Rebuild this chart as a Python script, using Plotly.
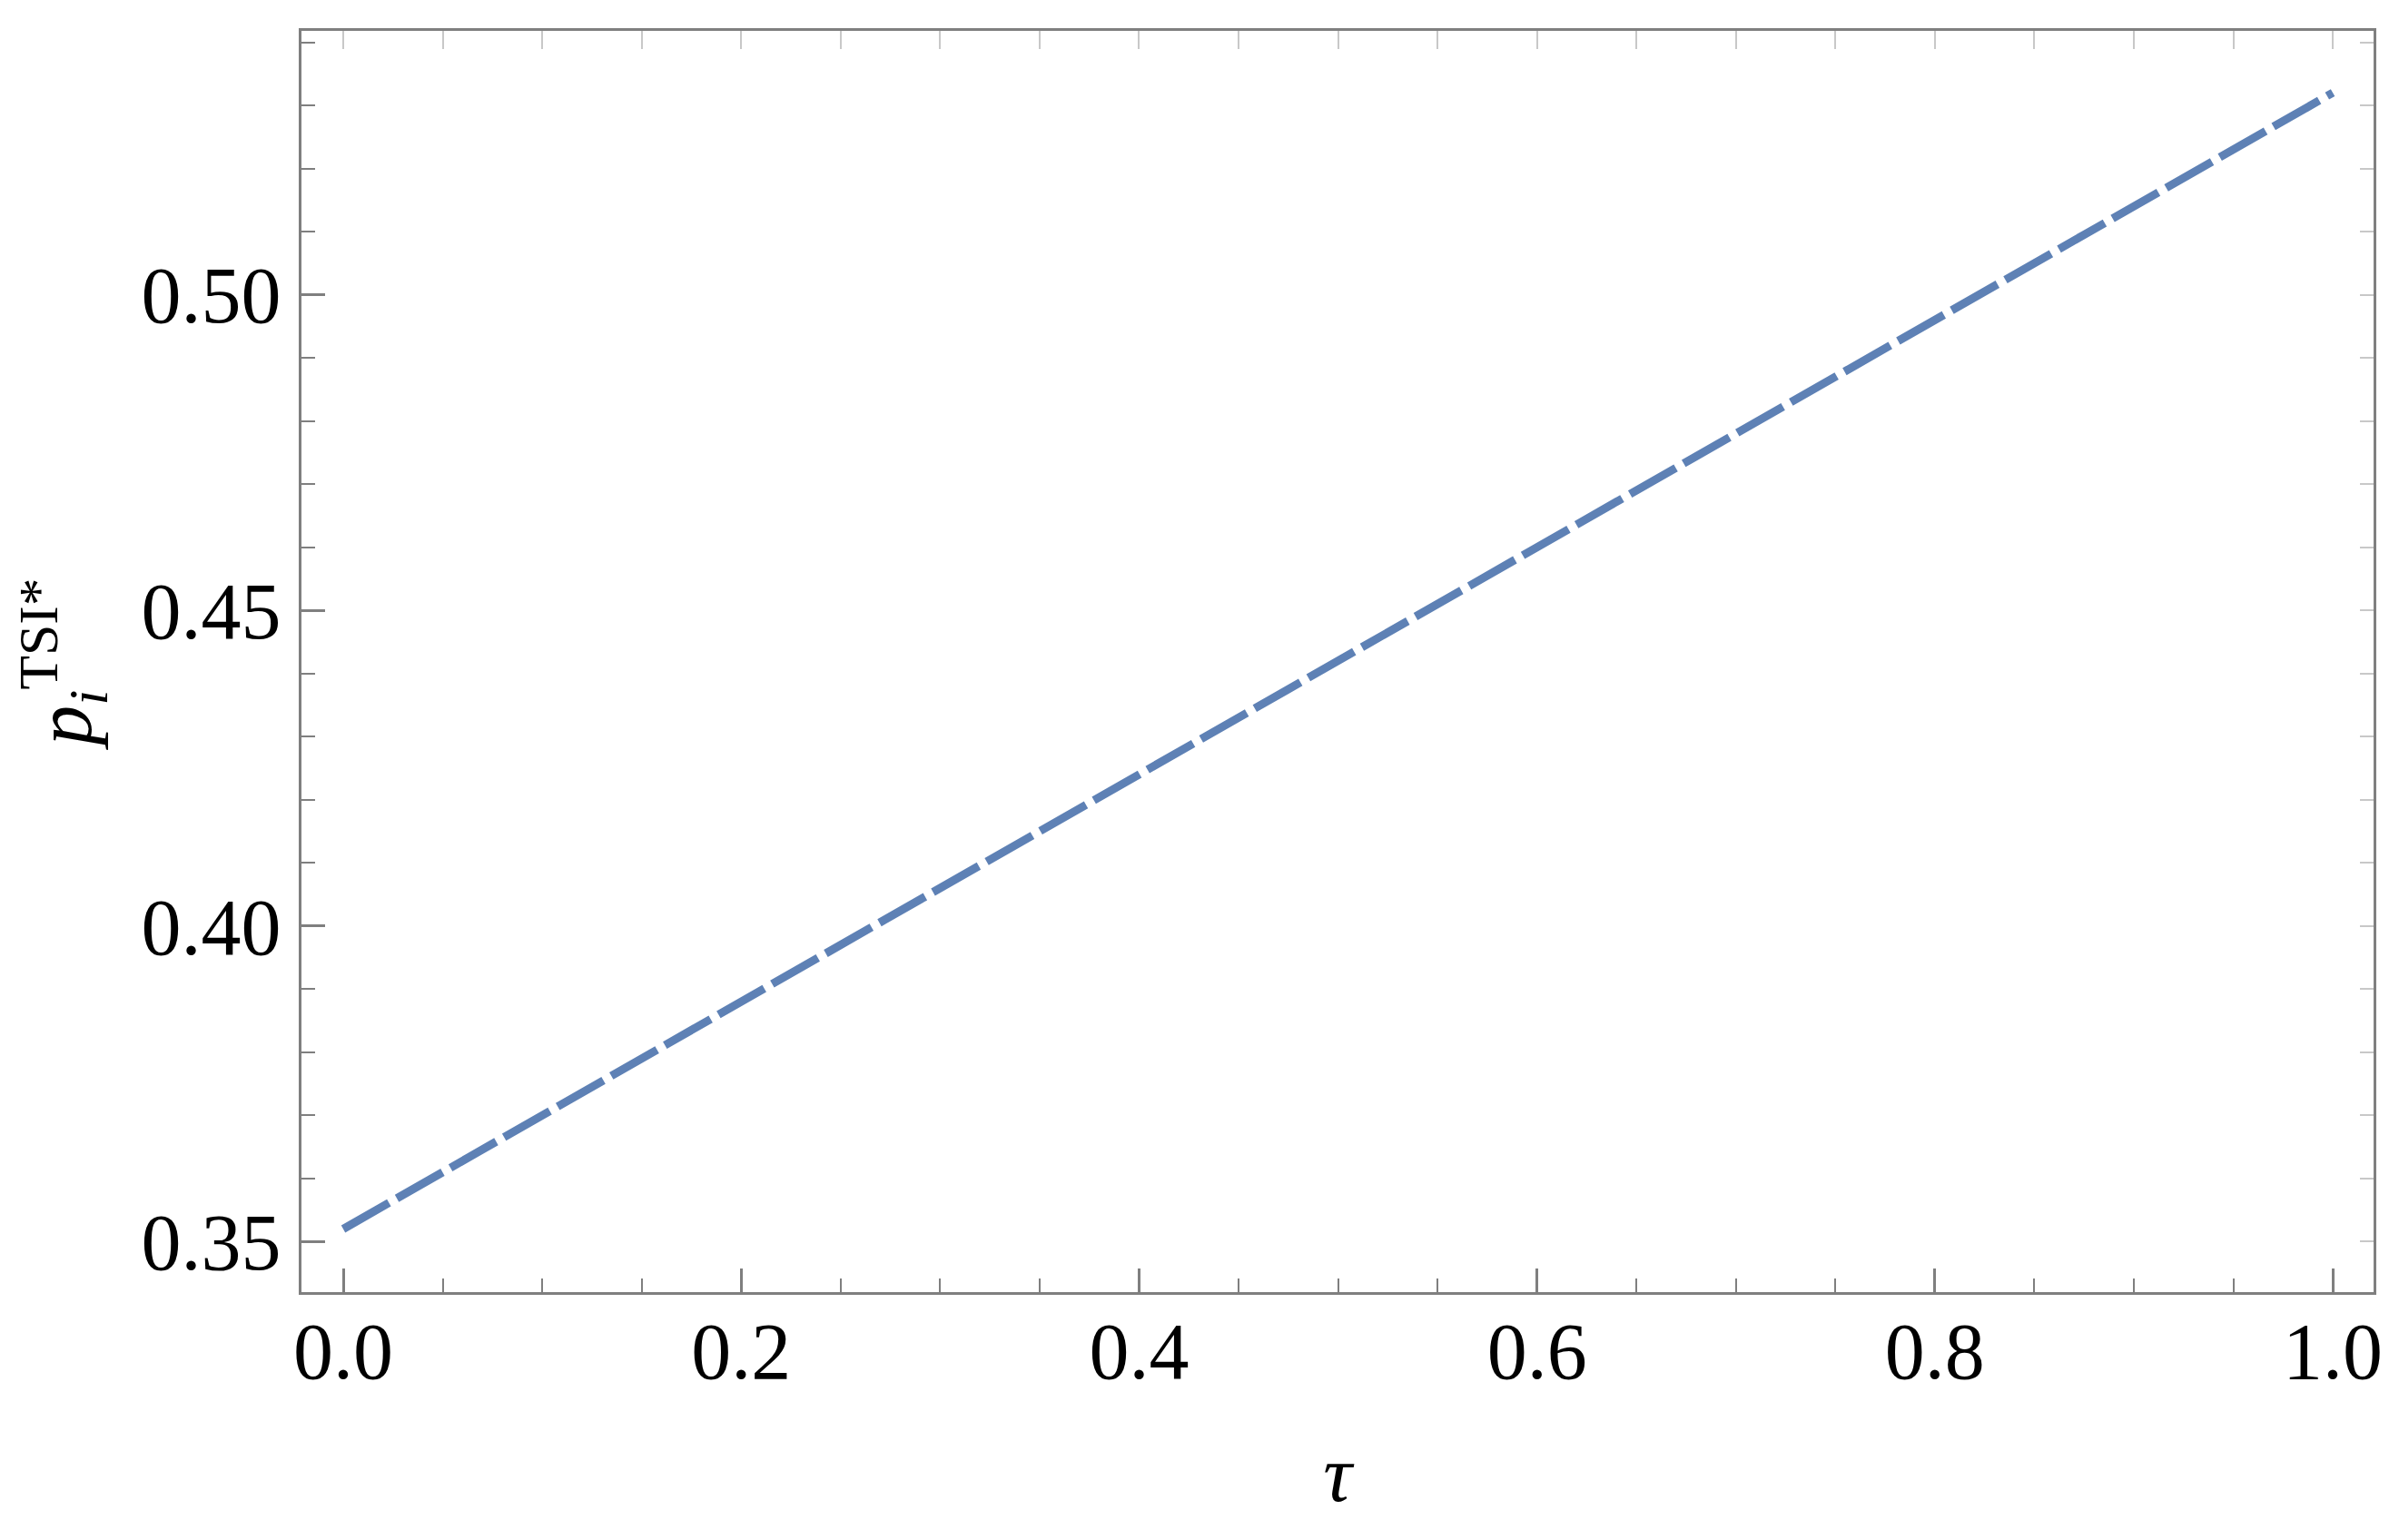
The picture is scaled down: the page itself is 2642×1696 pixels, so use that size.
import plotly.graph_objects as go

# valores
tau = [0.0, 0.2, 0.4, 0.6, 0.8, 1.0]
p_tsi = [0.352, 0.388, 0.424, 0.460, 0.496, 0.532]

x_ticks = [0.0, 0.2, 0.4, 0.6, 0.8, 1.0]
y_ticks = [0.35, 0.40, 0.45, 0.50]

x_rango = [-0.021, 1.0205]
y_rango = [0.3420, 0.5418]

color_linea = '#5E81B5'
color_marco = '#7f7f7f'
color_espejo = '#c8c8c8'
fuente = 'Liberation Serif'

fig = go.Figure()

fig.add_trace(go.Scatter(
    x=tau,
    y=p_tsi,
    mode='lines',
    line=dict(color=color_linea, width=9, dash='58px,10px'),
    showlegend=False
))

# traza invisible para que se dibujen los ejes espejo (arriba / derecha)
fig.add_trace(go.Scatter(
    x=tau,
    y=p_tsi,
    xaxis='x2',
    yaxis='y2',
    mode='lines',
    line=dict(color='rgba(0,0,0,0)', width=1),
    hoverinfo='skip',
    showlegend=False
))

fig.update_layout(
    width=2642,
    height=1696,
    paper_bgcolor='white',
    plot_bgcolor='white',
    # la página añade unos px de margen al body
    margin=dict(l=324, r=36, t=26, b=281),
    font=dict(family=fuente, size=88, color='black'),
    xaxis=dict(
        range=x_rango,
        tickvals=x_ticks,
        ticktext=[f'{v:.1f}' for v in x_ticks],
        ticks='inside',
        ticklen=26,
        tickwidth=3,
        tickcolor=color_marco,
        showline=True,
        linecolor=color_marco,
        linewidth=3,
        mirror=True,
        showgrid=False,
        zeroline=False,
        automargin=False,
        ticklabelstandoff=-14,
        minor=dict(dtick=0.05, tick0=0, ticks='inside', ticklen=15,
                   tickwidth=2, tickcolor=color_marco),
        title=dict(text='<i>τ</i>', font=dict(family=fuente, size=88),
                   standoff=56),
    ),
    yaxis=dict(
        range=y_rango,
        tickvals=y_ticks,
        ticktext=[f'{v:.2f}' for v in y_ticks],
        ticks='inside',
        ticklen=26,
        tickwidth=3,
        tickcolor=color_marco,
        showline=True,
        linecolor=color_marco,
        linewidth=3,
        mirror=True,
        showgrid=False,
        zeroline=False,
        automargin=False,
        ticklabelstandoff=2,
        minor=dict(dtick=0.01, tick0=0, ticks='inside', ticklen=15,
                   tickwidth=2, tickcolor=color_marco),
        title=dict(text='<i>p</i><sub><i>i</i></sub><sup>TSI*</sup>',
                   font=dict(family=fuente, size=88), standoff=34),
    ),
    xaxis2=dict(
        range=x_rango,
        overlaying='x',
        anchor='y',
        side='top',
        dtick=0.05,
        tick0=0,
        ticks='inside',
        ticklen=20,
        tickwidth=2,
        tickcolor=color_espejo,
        showticklabels=False,
        showgrid=False,
        showline=False,
        zeroline=False,
    ),
    yaxis2=dict(
        range=y_rango,
        overlaying='y',
        anchor='x',
        side='right',
        dtick=0.01,
        tick0=0,
        ticks='inside',
        ticklen=15,
        tickwidth=2,
        tickcolor=color_espejo,
        showticklabels=False,
        showgrid=False,
        showline=False,
        zeroline=False,
    ),
)

fig.write_html("out.html")
